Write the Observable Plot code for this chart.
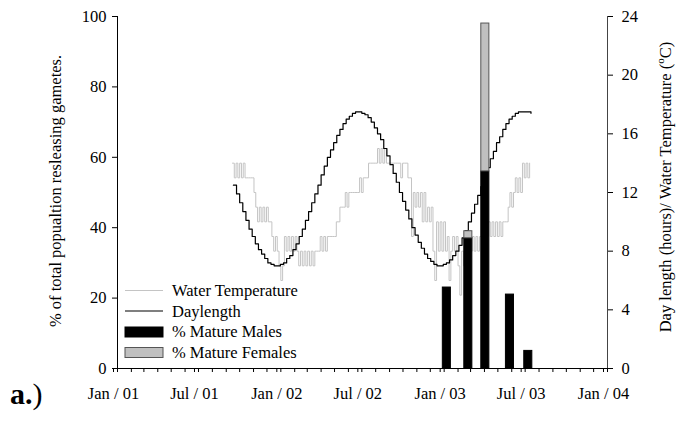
<!DOCTYPE html>
<html>
<head>
<meta charset="utf-8">
<script src="https://cdn.jsdelivr.net/npm/d3@7"></script>
<script src="https://cdn.jsdelivr.net/npm/@observablehq/plot@0.6"></script>
<style>
  html, body { margin: 0; padding: 0; background: white; }
  #chart { width: 677px; height: 423px; }
</style>
</head>
<body>
<div id="chart"></div>
<script>
// ---- Data ----
const leftTicks = [0, 20, 40, 60, 80, 100];
const rightTicks = [0, 4, 8, 12, 16, 20, 24];
const xLabelTicks = ["2001-01-01", "2001-07-01", "2002-01-01", "2002-07-01", "2003-01-01", "2003-07-01", "2004-01-01"];

// Gamete release samples (% of population)
const sampleDates = ["2003-01-07", "2003-02-24", "2003-04-03", "2003-05-28", "2003-07-08"];
const pctMales = [23, 37, 56, 21, 5];
const pctFemales = [0, 2, 42, 0, 0];

// Daylength (hours), weekly from 2001-09-17
const dayStart = "2001-09-17";
const daylength = [12.5,11.9,11.3,10.7,10.1,9.5,9.0,8.5,8.1,7.8,
  7.5,7.2,7.1,7.0,7.0,7.1,7.2,7.5,7.7,8.1,
  8.5,9.0,9.5,10.1,10.7,11.3,11.9,12.5,13.2,13.8,
  14.4,14.9,15.4,15.9,16.3,16.7,17.0,17.2,17.4,17.5,
  17.5,17.4,17.3,17.1,16.8,16.4,16.0,15.6,15.0,14.5,
  13.9,13.3,12.7,12.0,11.4,10.8,10.2,9.6,9.1,8.6,
  8.2,7.8,7.5,7.3,7.1,7.0,7.0,7.1,7.2,7.4,
  7.7,8.0,8.4,8.9,9.4,10.0,10.6,11.2,11.8,12.4,
  13.0,13.7,14.3,14.8,15.4,15.8,16.3,16.7,17.0,17.2,
  17.4,17.5,17.5,17.5,17.5,17.4];

// Water temperature (deg C), every 4 days from 2001-09-15
const tempStart = "2001-09-15";
const waterTemp = [14,13,14,13,14,13,14,13,13,13,
  13,13,12,11,10,11,10,11,10,11,
  10,10,9,8,9,8,7,6,7,9,
  8,9,8,9,8,9,8,7,8,7,
  8,7,8,7,8,7,8,8,8,9,
  8,9,8,9,9,9,9,9,10,10,
  11,11,11,12,11,12,12,12,12,12,
  12,13,12,13,13,13,14,14,14,14,
  14,15,14,15,14,15,14,14,14,14,
  14,14,14,14,13,14,14,14,13,13,
  9,12,11,12,11,12,10,12,10,11,
  10,11,8,6,10,8,10,8,10,8,
  9,6,8,9,8,9,7,5,8,7,
  8,7,9,8,9,8,9,8,9,9,
  9,9,9,10,9,10,9,10,9,10,
  9,10,10,10,11,12,11,12,13,12,
  13,12,14,13,14,13,14];

// ---- Build tables ----
const toPct = v => v * 100 / 24;
const dayData = daylength.map((h, i) => ({date: d3.utcDay.offset(new Date(dayStart), 7 * i), v: h}));
const tempData = waterTemp.map((t, i) => ({date: d3.utcDay.offset(new Date(tempStart), 4 * i), v: t}));
const bars = sampleDates.map((d, i) => ({date: new Date(d), male: pctMales[i], female: pctFemales[i]}));
const xStart = new Date("2001-01-01"), xEnd = new Date("2004-01-01");
const monthTicks = d3.utcMonth.range(xStart, d3.utcDay.offset(xEnd, 1));
const labelDates = xLabelTicks.map(d => new Date(d));

const font = "'Liberation Serif', 'Times New Roman', serif";

const svg = Plot.plot({
  width: 677,
  height: 423,
  marginTop: 16,
  marginBottom: 55,
  marginLeft: 117,
  marginRight: 70,
  style: {fontFamily: font, fontSize: "16.5px", background: "white", color: "black"},
  x: {type: "utc", domain: [xStart, xEnd]},
  y: {domain: [0, 100]},
  marks: [
    Plot.line(tempData, {x: "date", y: d => toPct(d.v), curve: "step-after", stroke: "#c4c4c4", strokeWidth: 1}),
    Plot.line(dayData, {x: "date", y: d => toPct(d.v), curve: "step-after", stroke: "black", strokeWidth: 1.2}),
    Plot.rect(bars, {x1: d => d3.utcDay.offset(d.date, -9), x2: d => d3.utcDay.offset(d.date, 9), y1: d => 0, y2: "male", fill: "black", stroke: "black", strokeWidth: 1}),
    Plot.rect(bars.filter(d => d.female > 0), {x1: d => d3.utcDay.offset(d.date, -9), x2: d => d3.utcDay.offset(d.date, 9), y1: "male", y2: d => d.male + d.female, fill: "#c0c0c0", stroke: "#555", strokeWidth: 1}),
    Plot.ruleX([xStart], {stroke: "black"}),
    Plot.ruleX([xEnd], {stroke: "#444"}),
    Plot.ruleY([0], {stroke: "black"}),
    Plot.axisY(leftTicks, {anchor: "left", tickSize: 5, tickPadding: 6, label: null}),
    Plot.axisY(rightTicks.map(toPct), {anchor: "right", tickSize: 5, tickPadding: 9, label: null, tickFormat: d => String(Math.round(d * 24 / 100))}),
    Plot.axisX(monthTicks, {anchor: "bottom", tickSize: 4, tickFormat: () => "", label: null}),
    Plot.axisX(labelDates, {anchor: "bottom", tickSize: 4, tickPadding: 15, dx: -4, label: null, tickFormat: d3.utcFormat("%b / %y")})
  ]
});

const s = d3.select(svg);
// Axis titles
s.append("text")
  .attr("transform", "translate(57,191) rotate(-90)")
  .attr("text-anchor", "middle").attr("dominant-baseline", "middle")
  .attr("font-family", font).attr("font-size", "16.5px").attr("fill", "black")
  .text("% of total popualtion resleasing gametes.");
const rt = s.append("text")
  .attr("transform", "translate(667,187) rotate(-90)")
  .attr("text-anchor", "middle").attr("dominant-baseline", "middle")
  .attr("font-family", font).attr("font-size", "16.5px").attr("fill", "black");
rt.append("tspan").text("Day length (hours)/ Water Temperature (");
rt.append("tspan").attr("baseline-shift", "super").attr("font-size", "11px").text("o");
rt.append("tspan").text("C)");

// Legend
const lg = s.append("g").attr("font-family", font).attr("font-size", "16.5px").attr("fill", "black").attr("text-anchor", "start");
lg.append("line").attr("x1", 125).attr("x2", 163).attr("y1", 290.5).attr("y2", 290.5).attr("stroke", "#c4c4c4").attr("stroke-width", 1.2);
lg.append("line").attr("x1", 125).attr("x2", 163).attr("y1", 311).attr("y2", 311).attr("stroke", "black").attr("stroke-width", 1.2);
lg.append("rect").attr("x", 125).attr("y", 327).attr("width", 38).attr("height", 10).attr("fill", "black").attr("stroke", "black");
lg.append("rect").attr("x", 125).attr("y", 347.5).attr("width", 38).attr("height", 10).attr("fill", "#c0c0c0").attr("stroke", "#555");
const labels = ["Water Temperature", "Daylength", "% Mature Males", "% Mature Females"];
const baselines = [296, 316.5, 337, 357.5];
labels.forEach((t, i) => lg.append("text").attr("x", 172).attr("y", baselines[i]).attr("text-anchor", "start").text(t));

// Panel label
const pl = s.append("text").attr("x", 10).attr("y", 404).attr("text-anchor", "start").attr("font-family", font).attr("font-size", "30px").attr("fill", "black");
pl.append("tspan").attr("font-weight", "bold").text("a.");
pl.append("tspan").text(")");

document.getElementById("chart").appendChild(svg);
</script>
</body>
</html>
